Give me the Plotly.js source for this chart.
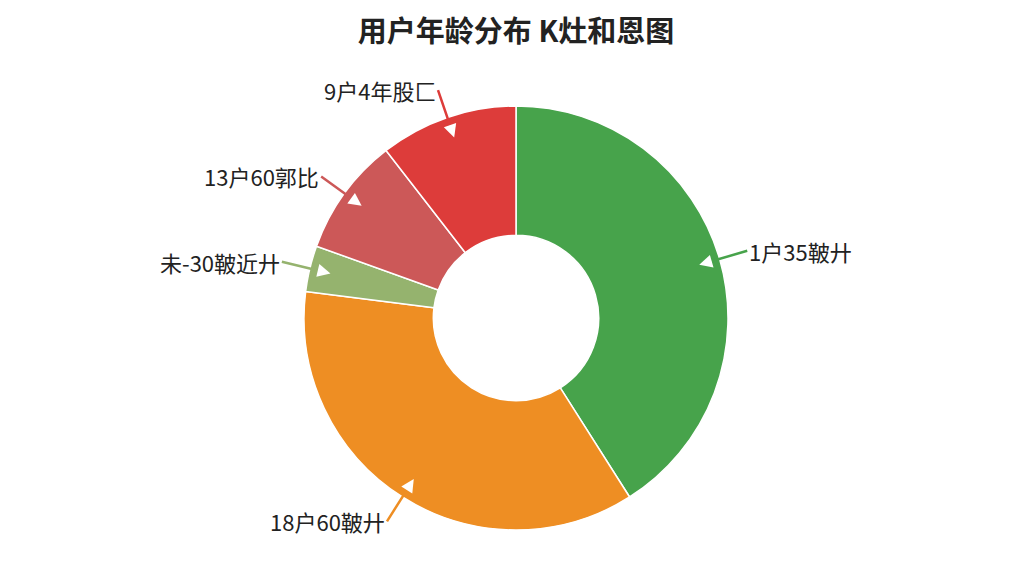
<!DOCTYPE html>
<html><head><meta charset="utf-8">
<script src="https://cdn.plot.ly/plotly-3.0.1.min.js"></script>
<style>html,body{margin:0;padding:0;background:#fff}#chart{width:1024px;height:576px}</style>
</head><body><div id="chart"></div>
<script>
var titleText = "用户年龄分布 K灶和恩图";
var categories = ["1户35鞁廾", "18户60鞁廾", "未-30鞁近廾", "13户60郭比", "9户4年股匚"];
var values = [41, 36, 3.5, 9, 10.5];
var colors = ["#47a34b", "#ee8e23", "#95b36e", "#cc5858", "#dd3c3a"];

var W = 1024, H = 576;
var margin = {l: 8, r: 0, t: 106, b: 46};
var pw = W - margin.l - margin.r, ph = H - margin.t - margin.b;
var R = Math.min(pw, ph) / 2;
var cx = pw / 2, cy = ph / 2;

var total = values.reduce(function(a, b){return a + b;}, 0);
var annotations = [];
var cum = 0;
values.forEach(function(v, i){
  var mid = (cum + v / 2) / total * 2 * Math.PI;
  cum += v;
  var dx = Math.sin(mid), dy = -Math.cos(mid);
  var hr = 0.9 * R;
  var hx = cx + dx * hr, hy = cy + dy * hr;
  var xp = hx / pw, yp = 1 - hy / ph;
  var d = 50;
  var right = dx > 0;
  annotations.push({
    xref: "paper", yref: "paper", x: xp, y: yp,
    text: categories[i], showarrow: true,
    ax: dx * d, ay: dy * d,
    xanchor: right ? "left" : "right", yanchor: "middle",
    arrowcolor: colors[i], arrowwidth: 2.5, arrowhead: 0,
    font: {family: "Noto Sans CJK SC, sans-serif", size: 22, color: "#222"}
  });
  annotations.push({
    xref: "paper", yref: "paper", x: xp, y: yp,
    text: "", showarrow: true,
    ax: dx * 14, ay: dy * 14,
    arrowcolor: "#ffffff", arrowwidth: 1, arrowhead: 2, arrowsize: 2.6
  });
});

var data = [{
  type: "pie",
  labels: categories,
  values: values,
  hole: 0.39,
  sort: false,
  direction: "clockwise",
  rotation: 0,
  textinfo: "none",
  marker: {colors: colors, line: {color: "#ffffff", width: 1.5}},
  hoverinfo: "label+percent"
}];

var layout = {
  width: W, height: H,
  margin: margin,
  paper_bgcolor: "#ffffff",
  showlegend: false,
  title: {text: "<b>" + titleText + "</b>", x: 0.504, xanchor: "center", y: 0.945, yanchor: "middle",
          font: {family: "Noto Sans CJK SC, sans-serif", size: 29, color: "#222"}},
  annotations: annotations
};
Plotly.newPlot("chart", data, layout, {displayModeBar: false, staticPlot: true});
</script>
</body></html>
